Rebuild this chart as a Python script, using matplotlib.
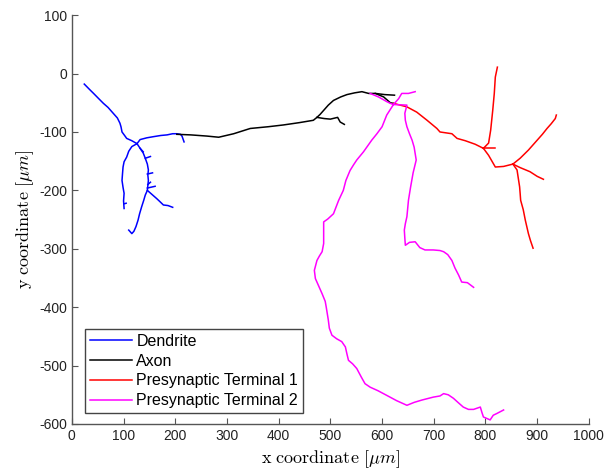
import matplotlib.pyplot as plt
import matplotlib as mpl

mpl.rcParams['font.family'] = ['Liberation Sans', 'DejaVu Sans']
mpl.rcParams['mathtext.fontset'] = 'cm'
mpl.rcParams['axes.unicode_minus'] = False
mpl.rcParams['font.size'] = 10

# traced neuron branches, coordinates in um
dend_main_x = [24, 34, 42, 52, 61, 70, 80, 88, 93, 95, 97, 102, 106, 116, 126]
dend_main_y = [-18, -27, -34, -43, -51, -58, -68, -76, -85, -91, -100, -106, -111, -115, -120]
dend_right_x = [126, 132, 145, 158, 172, 184, 195, 203, 210, 213, 217]
dend_right_y = [-120, -113, -110, -108, -106, -105, -103, -103, -104, -107, -117]
dend_left_x = [126, 116, 110, 106, 101, 99, 98, 97, 99, 101, 100, 101]
dend_left_y = [-120, -125, -133, -143, -151, -160, -171, -183, -195, -205, -218, -231]
dend_down_x = [126, 132, 138, 142, 146, 148, 147, 148, 146, 142, 139, 135, 131, 128, 124, 120, 116, 110]
dend_down_y = [-120, -128, -136, -145, -155, -165, -174, -183, -200, -208, -217, -228, -240, -251, -262, -270, -274, -268]
dend_sub_x = [146, 155, 164, 170, 177, 186, 195]
dend_sub_y = [-200, -207, -214, -219, -225, -226, -229]
dend_spurs = [
    ([142, 152], [-145, -142]),
    ([146, 156], [-172, -170]),
    ([146, 161], [-196, -193]),
    ([147, 152], [-190, -186]),
    ([132, 138], [-128, -134]),
    ([101, 105], [-223, -222]),
]

axon_main_x = [203, 230, 261, 284, 313, 345, 380, 409, 440, 467, 474, 480, 487, 496, 506,
               520, 532, 547, 561, 574, 587, 603, 616, 622]
axon_main_y = [-104, -105, -107, -109, -103, -94, -91, -88, -84, -80, -75, -70, -63, -54, -46,
               -40, -36, -33, -31, -34, -34, -40, -50, -51]
axon_branch_x = [474, 488, 500, 514, 519, 527]
axon_branch_y = [-75, -77, -78, -75, -83, -87]
axon_spur_x = [587, 605, 624]
axon_spur_y = [-34, -36, -37]

pt1_main_x = [622, 648, 667, 687, 706, 712, 735, 745, 761, 780, 796]
pt1_main_y = [-51, -57, -66, -80, -94, -100, -103, -111, -115, -121, -128]
pt1_up_x = [796, 806, 810, 812, 814, 817, 818, 819, 823]
pt1_up_y = [-128, -119, -97, -80, -63, -34, -20, -6, 11]
pt1_spur_x = [796, 819]
pt1_spur_y = [-128, -128]
pt1_mid_x = [796, 806, 819, 835, 853]
pt1_mid_y = [-128, -140, -160, -159, -155]
pt1_ne_x = [853, 867, 883, 893, 903, 910, 919, 927, 935, 937]
pt1_ne_y = [-155, -145, -131, -121, -111, -104, -94, -86, -77, -71]
pt1_e_x = [853, 867, 886, 900, 912]
pt1_e_y = [-155, -161, -168, -176, -181]
pt1_s_x = [853, 861, 866, 867, 868, 873, 877, 883, 887, 892]
pt1_s_y = [-155, -165, -194, -205, -217, -233, -251, -274, -286, -299]

pt2_top_x = [577, 593, 609, 616, 622]
pt2_top_y = [-34, -40, -48, -51, -53]
pt2_long_x = [622, 609, 600, 590, 580, 564, 551, 545, 538, 530, 525, 516, 506, 495, 487, 487,
              484, 479, 474, 469, 471, 478, 484, 490, 492, 496, 498, 503, 512, 522, 529, 532, 535,
              543, 551, 560, 567, 577, 592, 609, 628, 648, 662, 677, 699, 712, 719, 728, 738, 748,
              757, 767, 777, 790, 793, 796, 809, 815, 822, 835]
pt2_long_y = [-53, -71, -91, -103, -114, -134, -148, -156, -166, -183, -200, -217, -240, -249, -254,
              -291, -305, -312, -320, -337, -351, -365, -377, -390, -400, -422, -436, -448, -454,
              -459, -468, -480, -491, -497, -505, -520, -531, -537, -543, -551, -560, -568, -563,
              -559, -554, -552, -548, -550, -556, -564, -571, -575, -575, -571, -580, -588, -593,
              -585, -582, -576]
pt2_hook_x = [622, 632, 638, 651, 664]
pt2_hook_y = [-53, -43, -34, -34, -31]
pt2_right_x = [622, 648, 644, 645, 648, 653, 658, 662, 664, 666, 660, 655, 651, 648, 645, 643, 644,
               645, 653, 664, 673, 683, 699, 712, 719, 727, 735, 741, 748, 754, 765, 777]
pt2_right_y = [-53, -54, -68, -80, -91, -103, -114, -126, -137, -148, -170, -195, -217, -245, -257,
               -268, -282, -294, -289, -288, -298, -302, -302, -303, -305, -310, -320, -333, -345,
               -357, -358, -366]

fig = plt.figure(figsize=(6.09, 4.74), dpi=100)
ax = fig.add_axes([0.118, 0.1055, 0.849, 0.8625])

lw = 1.1
blue, black, red, magenta = '#0000ff', '#000000', '#ff0000', '#ff00ff'

ax.plot(dend_main_x, dend_main_y, color=blue, lw=lw, label='Dendrite')
for bx, by in [(dend_right_x, dend_right_y), (dend_left_x, dend_left_y),
               (dend_down_x, dend_down_y), (dend_sub_x, dend_sub_y)] + dend_spurs:
    ax.plot(bx, by, color=blue, lw=lw)

ax.plot(axon_main_x, axon_main_y, color=black, lw=lw, label='Axon')
ax.plot(axon_branch_x, axon_branch_y, color=black, lw=lw)
ax.plot(axon_spur_x, axon_spur_y, color=black, lw=lw)

ax.plot(pt1_main_x, pt1_main_y, color=red, lw=lw, label='Presynaptic Terminal 1')
for bx, by in [(pt1_up_x, pt1_up_y), (pt1_spur_x, pt1_spur_y), (pt1_mid_x, pt1_mid_y),
               (pt1_ne_x, pt1_ne_y), (pt1_e_x, pt1_e_y), (pt1_s_x, pt1_s_y)]:
    ax.plot(bx, by, color=red, lw=lw)

ax.plot(pt2_long_x, pt2_long_y, color=magenta, lw=lw, label='Presynaptic Terminal 2')
for bx, by in [(pt2_top_x, pt2_top_y), (pt2_hook_x, pt2_hook_y), (pt2_right_x, pt2_right_y)]:
    ax.plot(bx, by, color=magenta, lw=lw)

ax.set_xlim(0, 1000)
ax.set_ylim(-600, 100)
ax.set_xticks(range(0, 1001, 100))
ax.set_yticks(range(-600, 101, 100))
ax.spines['top'].set_visible(False)
ax.spines['right'].set_visible(False)
for s in ['left', 'bottom']:
    ax.spines[s].set_color('#555555')
    ax.spines[s].set_linewidth(1.0)
ax.tick_params(direction='in', length=4, color='#555555', labelcolor='#222222', labelsize=10)

ax.set_xlabel(r'$\mathrm{x\ coordinate}\ [\mu m]$', fontsize=13, labelpad=4)
ax.set_ylabel(r'$\mathrm{y\ coordinate}\ [\mu m]$', fontsize=13, labelpad=2)

leg = ax.legend(loc='lower left', bbox_to_anchor=(0.026, 0.027), borderaxespad=0,
                fontsize=11.5, fancybox=False, handlelength=2.6, handletextpad=0.3,
                labelspacing=0.3, borderpad=0.3, framealpha=1)
leg.get_frame().set_edgecolor('#444444')
leg.get_frame().set_linewidth(1.0)

fig.savefig('out.png', dpi=100)
